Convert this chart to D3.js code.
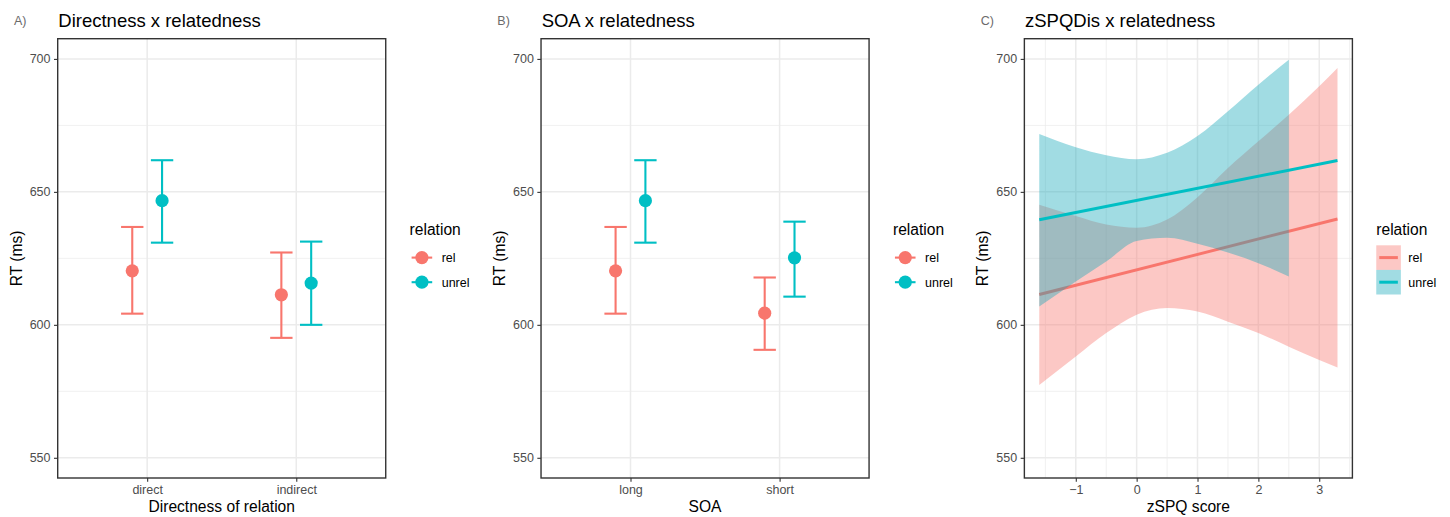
<!DOCTYPE html>
<html>
<head>
<meta charset="utf-8">
<script src="https://cdn.jsdelivr.net/npm/d3@7"></script>
<style>
  body { margin: 0; background: #fff; }
  svg text { font-family: 'Liberation Sans', Arial, Helvetica, sans-serif; }
</style>
</head>
<body>
<svg id="fig" width="1450" height="517"></svg>
<script>
/* RT figure — three ggplot-style panels (A, B: point ranges, C: fit + bands). */

const W = 1450, H = 517;
const PANEL_W = W / 3;

/* ------------------------------------------------------------------ *
 * Data
 * ------------------------------------------------------------------ */
const RELATION = ['rel', 'unrel'];
const RELATION_COLORS = ['#F8766D', '#00BFC4'];
const BAND_COLORS = ['#F8766D', '#14A8B8'];

const RT_TICKS = [550, 600, 650, 700];
const RT_MINOR = [575, 625, 675];

// A) Directness x relatedness
const DIRECTNESS = ['direct', 'indirect'];
const DIR_REL_MEAN = [620.3, 611.3];
const DIR_REL_LO = [604.2, 595.1];
const DIR_REL_HI = [636.8, 627.2];
const DIR_UNREL_MEAN = [646.7, 615.7];
const DIR_UNREL_LO = [630.9, 600.0];
const DIR_UNREL_HI = [661.9, 631.3];

// B) SOA x relatedness
const SOA = ['long', 'short'];
const SOA_REL_MEAN = [620.3, 604.4];
const SOA_REL_LO = [604.2, 590.6];
const SOA_REL_HI = [636.8, 617.8];
const SOA_UNREL_MEAN = [646.7, 625.2];
const SOA_UNREL_LO = [630.9, 610.6];
const SOA_UNREL_HI = [661.9, 638.8];

// C) zSPQDis x relatedness
const ZSPQ_TICKS = [-1, 0, 1, 2, 3];
const ZSPQ_MINOR = [-1.5, -0.5, 0.5, 1.5, 2.5, 3.5];
const FIT_X = [-1.6, 3.3];
const FIT_REL = [611.4, 639.8];
const FIT_UNREL = [639.5, 661.8];
const BAND_REL_X = [-1.6, -1, -0.5, 0, 0.5, 1, 1.5, 2, 2.5, 3, 3.3];
const BAND_REL_LO = [577.4, 588.1, 596.9, 603.8, 606.3, 605.0, 601.2, 596.9, 591.8, 586.8, 584.0];
const BAND_REL_HI = [645.2, 640.9, 637.7, 636.5, 639.6, 648.0, 659.0, 669.0, 679.0, 689.7, 696.6];
const BAND_UNREL_X = [-1.6, -1, -0.5, 0, 0.5, 1, 1.5, 2, 2.5];
const BAND_UNREL_LO = [606.9, 616.3, 623.8, 631.5, 632.7, 630.5, 627.2, 623.2, 618.2];
const BAND_UNREL_HI = [671.8, 666.8, 663.8, 662.3, 664.7, 671.0, 680.3, 690.3, 699.7];

/* ------------------------------------------------------------------ *
 * Layout / style
 * ------------------------------------------------------------------ */
const M = { left: 57.7, right: 97.6, top: 38.7, bottom: 39 };
const plotW = PANEL_W - M.left - M.right;
const plotH = H - M.top - M.bottom;

const FS = { title: 18.5, axisTitle: 15.6, tick: 12.5, tag: 12.5 };
const GRID = '#EBEBEB';
const INK = '#333333';

const svg = d3.select('#fig');

function styleAxis(g) {
  g.select('.domain').remove();
  g.attr('font-family', null).attr('font-size', null);
  g.selectAll('.tick line').attr('stroke', INK).attr('stroke-width', 1.1);
  g.selectAll('.tick text').attr('fill', '#4D4D4D').attr('font-size', FS.tick);
}

function drawPanel(i, cfg) {
  const panel = svg.append('g').attr('transform', `translate(${i * PANEL_W},0)`);

  panel.append('text')
    .attr('x', 14).attr('y', 24.5)
    .attr('fill', '#6b6b6b').attr('font-size', FS.tag)
    .text(cfg.tag);
  panel.append('text')
    .attr('x', M.left + 0.6).attr('y', 27)
    .attr('fill', '#000').attr('font-size', FS.title)
    .text(cfg.title);

  const plot = panel.append('g').attr('transform', `translate(${M.left},${M.top})`);
  const y = d3.scaleLinear().domain([542.4, 707.6]).range([plotH, 0]);
  const x = cfg.x;

  // Grid
  const grid = plot.append('g');
  grid.selectAll('line.hmin').data(RT_MINOR).enter().append('line')
    .attr('x1', 0).attr('x2', plotW)
    .attr('y1', (d) => y(d)).attr('y2', (d) => y(d))
    .attr('stroke', GRID).attr('stroke-width', 0.75);
  grid.selectAll('line.vmin').data(cfg.xMinor || []).enter().append('line')
    .attr('y1', 0).attr('y2', plotH)
    .attr('x1', (d) => x(d)).attr('x2', (d) => x(d))
    .attr('stroke', GRID).attr('stroke-width', 0.75);
  grid.selectAll('line.hmaj').data(RT_TICKS).enter().append('line')
    .attr('x1', 0).attr('x2', plotW)
    .attr('y1', (d) => y(d)).attr('y2', (d) => y(d))
    .attr('stroke', GRID).attr('stroke-width', 1.5);
  grid.selectAll('line.vmaj').data(cfg.xMajor).enter().append('line')
    .attr('y1', 0).attr('y2', plotH)
    .attr('x1', (d) => x(d)).attr('x2', (d) => x(d))
    .attr('stroke', GRID).attr('stroke-width', 1.5);

  cfg.drawData(plot, x, y);

  // Border
  plot.append('rect')
    .attr('width', plotW).attr('height', plotH)
    .attr('fill', 'none').attr('stroke', INK).attr('stroke-width', 1.4);

  // Axes
  plot.append('g')
    .call(d3.axisLeft(y).tickValues(RT_TICKS).tickSize(3.7).tickPadding(3.5))
    .call(styleAxis);
  const xAxis = d3.axisBottom(x).tickSize(3.7).tickPadding(3.5);
  if (cfg.xTicks) xAxis.tickValues(cfg.xTicks).tickFormat(d3.format('d'));
  plot.append('g')
    .attr('transform', `translate(0,${plotH})`)
    .call(xAxis)
    .call(styleAxis);

  // Axis titles
  panel.append('text')
    .attr('x', M.left + plotW / 2).attr('y', 512)
    .attr('text-anchor', 'middle')
    .attr('fill', '#000').attr('font-size', FS.axisTitle)
    .text(cfg.xTitle);
  panel.append('text')
    .attr('transform', `translate(21.5,${M.top + plotH / 2}) rotate(-90)`)
    .attr('text-anchor', 'middle')
    .attr('fill', '#000').attr('font-size', FS.axisTitle)
    .text('RT (ms)');

  // Legend
  const lg = panel.append('g').attr('transform', 'translate(409.6,0)');
  lg.append('text')
    .attr('x', 0).attr('y', 235)
    .attr('fill', '#000').attr('font-size', FS.axisTitle)
    .text('relation');
  const KEY = 24.6;
  RELATION.forEach((name, k) => {
    const top = 245.3 + k * KEY;
    const key = lg.append('g').attr('transform', `translate(0,${top})`);
    cfg.legendKey(key, KEY, k);
    lg.append('text')
      .attr('x', 32.1).attr('y', top + KEY / 2)
      .attr('dy', '0.35em')
      .attr('fill', '#000').attr('font-size', FS.tick)
      .text(name);
  });
}

/* ------------------------------------------------------------------ *
 * Marks
 * ------------------------------------------------------------------ */
function pointRanges(series) {
  return (plot, x, y) => {
    const step = x.step();
    series.forEach((s, k) => {
      const off = (k === 0 ? -0.1 : 0.1) * step;
      const col = RELATION_COLORS[k];
      const g = plot.append('g');
      s.cats.forEach((c, j) => {
        const cx = x(c) + off;
        const hw = 0.075 * step;
        g.append('line')
          .attr('x1', cx).attr('x2', cx)
          .attr('y1', y(s.lo[j])).attr('y2', y(s.hi[j]))
          .attr('stroke', col).attr('stroke-width', 2.1);
        for (const v of [s.lo[j], s.hi[j]]) {
          g.append('line')
            .attr('x1', cx - hw).attr('x2', cx + hw)
            .attr('y1', y(v)).attr('y2', y(v))
            .attr('stroke', col).attr('stroke-width', 2.1);
        }
        g.append('circle')
          .attr('cx', cx).attr('cy', y(s.mean[j]))
          .attr('r', 6.6).attr('fill', col);
      });
    });
  };
}

function pointKey(key, size, k) {
  const col = RELATION_COLORS[k];
  key.append('line')
    .attr('x1', 2).attr('x2', size - 2)
    .attr('y1', size / 2).attr('y2', size / 2)
    .attr('stroke', col).attr('stroke-width', 2.1);
  key.append('circle')
    .attr('cx', size / 2).attr('cy', size / 2)
    .attr('r', 6.6).attr('fill', col);
}

function bandKey(key, size, k) {
  key.append('rect')
    .attr('width', size).attr('height', size)
    .attr('fill', BAND_COLORS[k]).attr('fill-opacity', 0.4);
  key.append('line')
    .attr('x1', 3).attr('x2', size - 3)
    .attr('y1', size / 2).attr('y2', size / 2)
    .attr('stroke', RELATION_COLORS[k]).attr('stroke-width', 3);
}

function categoryScale(cats) {
  return d3.scalePoint().domain(cats).range([0, plotW]).padding(0.6);
}

/* ------------------------------------------------------------------ *
 * Panels
 * ------------------------------------------------------------------ */
const xDir = categoryScale(DIRECTNESS);
drawPanel(0, {
  tag: 'A)',
  title: 'Directness x relatedness',
  xTitle: 'Directness of relation',
  x: xDir,
  xMajor: DIRECTNESS,
  legendKey: pointKey,
  drawData: pointRanges([
    { cats: DIRECTNESS, mean: DIR_REL_MEAN, lo: DIR_REL_LO, hi: DIR_REL_HI },
    { cats: DIRECTNESS, mean: DIR_UNREL_MEAN, lo: DIR_UNREL_LO, hi: DIR_UNREL_HI },
  ]),
});

const xSoa = categoryScale(SOA);
drawPanel(1, {
  tag: 'B)',
  title: 'SOA x relatedness',
  xTitle: 'SOA',
  x: xSoa,
  xMajor: SOA,
  legendKey: pointKey,
  drawData: pointRanges([
    { cats: SOA, mean: SOA_REL_MEAN, lo: SOA_REL_LO, hi: SOA_REL_HI },
    { cats: SOA, mean: SOA_UNREL_MEAN, lo: SOA_UNREL_LO, hi: SOA_UNREL_HI },
  ]),
});

const xZ = d3.scaleLinear().domain([-1.845, 3.545]).range([0, plotW]);
drawPanel(2, {
  tag: 'C)',
  title: 'zSPQDis x relatedness',
  xTitle: 'zSPQ score',
  x: xZ,
  xTicks: ZSPQ_TICKS,
  xMajor: ZSPQ_TICKS,
  xMinor: ZSPQ_MINOR,
  legendKey: bandKey,
  drawData: (plot, x, y) => {
    const area = d3.area()
      .x((d) => x(d.x)).y0((d) => y(d.lo)).y1((d) => y(d.hi))
      .curve(d3.curveMonotoneX);
    const line = d3.line().x((d) => x(d.x)).y((d) => y(d.v));
    const layers = [
      { xs: BAND_REL_X, lo: BAND_REL_LO, hi: BAND_REL_HI, fit: FIT_REL },
      { xs: BAND_UNREL_X, lo: BAND_UNREL_LO, hi: BAND_UNREL_HI, fit: FIT_UNREL },
    ];
    layers.forEach((L, k) => {
      plot.append('path')
        .datum(L.xs.map((v, j) => ({ x: v, lo: L.lo[j], hi: L.hi[j] })))
        .attr('d', area)
        .attr('fill', BAND_COLORS[k]).attr('fill-opacity', 0.4);
      plot.append('path')
        .datum(FIT_X.map((v, j) => ({ x: v, v: L.fit[j] })))
        .attr('d', line)
        .attr('fill', 'none').attr('stroke', RELATION_COLORS[k]).attr('stroke-width', 2.9);
    });
  },
});
</script>
</body>
</html>
